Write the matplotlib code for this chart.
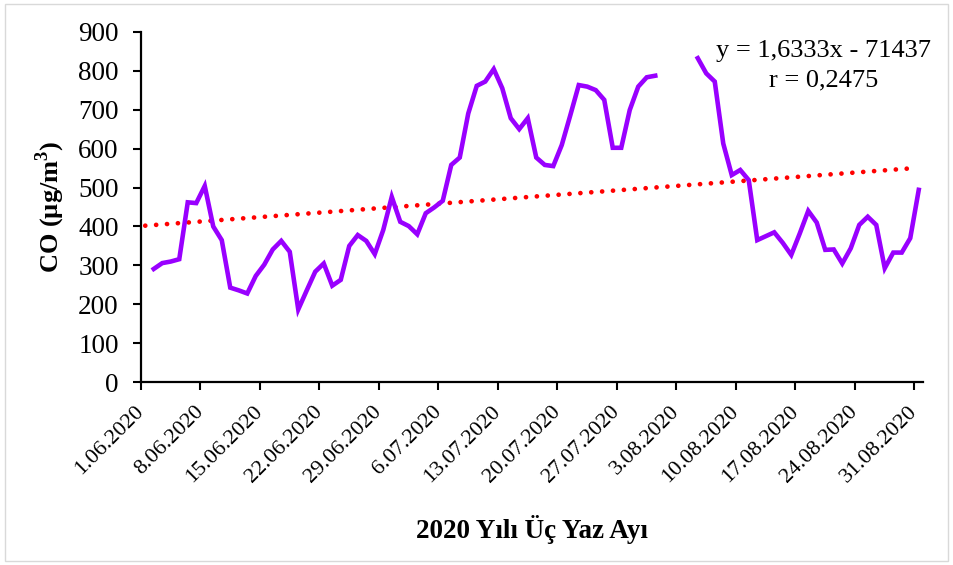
import numpy as np
import pandas as pd
import matplotlib
matplotlib.use("Agg")
import matplotlib.pyplot as plt
from matplotlib.patches import Rectangle

plt.rcParams['font.family'] = ['Liberation Serif', 'DejaVu Serif']

# Daily CO values, 2.06.2020 - 31.08.2020 (None = missing days)
start_date = "2020-06-02"
end_date = "2020-08-31"
co_values = [291, 306, 310, 316, 462, 460, 504, 400, 365, 243,
             236, 228, 273, 302, 341, 363, 335, 187, 236, 284,
             305, 248, 263, 350, 378, 363, 329, 391, 476, 412,
             401, 380, 434, 449, 466, 558, 577, 690, 761, 772,
             804, 755, 678, 650, 678, 577, 558, 555, 609, 685,
             763, 759, 750, 725, 602, 602, 699, 759, 783, 787,
             None, None, None, None, 832, 793, 772, 613, 532, 545,
             519, 365, 375, 385, 358, 327, 382, 440, 410, 340,
             341, 305, 344, 404, 425, 404, 293, 333, 333, 370,
             494]
tick_labels = ["1.06.2020", "8.06.2020", "15.06.2020", "22.06.2020",
               "29.06.2020", "6.07.2020", "13.07.2020", "20.07.2020",
               "27.07.2020", "3.08.2020", "10.08.2020", "17.08.2020",
               "24.08.2020", "31.08.2020"]
trend_slope = 1.6333
trend_icept = -71437
trend_text = "y = 1,6333x - 71437"
r_text = "r = 0,2475"

PURPLE = "#9900ff"
RED = "#ff0000"

dates = pd.date_range(start_date, end_date, freq="D")
first_tick = pd.Timestamp("2020-06-01")
# days since the first tick, points sit in the middle of their day slot
xpos = (dates - first_tick).days.values + 0.5
yvals = np.array([np.nan if v is None else v for v in co_values], dtype=float)

# Excel serial day numbers for the trendline equation
serial = (dates - pd.Timestamp("1899-12-30")).days.values
trend_x = np.array([xpos[0] - 1, xpos[-1] - 1])
trend_y = trend_slope * np.array([serial[0], serial[-1]]) + trend_icept

fig = plt.figure(figsize=(9.54, 5.65), dpi=100)
ax = fig.add_axes([141 / 954, 1 - 382.3 / 565, (923 - 141) / 954, (382.3 - 31.7) / 565])

ax.plot(xpos, yvals, color=PURPLE, lw=3.3, solid_joinstyle='miter', zorder=3)
ax.plot(trend_x, trend_y, color=RED, lw=3.4, linestyle=(0, (0.01, 2.3)),
        dash_capstyle='round', zorder=2)

ax.set_xlim(0, 92)
ax.set_ylim(0, 900)
ax.set_yticks(np.arange(0, 901, 100))
ax.set_xticks(np.arange(0, 92, 7))
ax.set_xticklabels(tick_labels, rotation=45, ha='right', va='center',
                   rotation_mode='anchor', fontsize=16)
ax.tick_params(axis='y', labelsize=19.5, direction='out', length=6, width=1.5, pad=10)
ax.tick_params(axis='x', direction='out', length=6, width=1.5, pad=13)

for side in ['top', 'right']:
    ax.spines[side].set_visible(False)
for side in ['left', 'bottom']:
    ax.spines[side].set_linewidth(1.6)

ax.set_ylabel("CO (µg/m$^\\mathregular{3}$)", fontsize=19, fontweight='bold')
ax.yaxis.set_label_coords(-0.094, 0.5)

fig.text(532 / 954, 1 - 530 / 565, "2020 Yılı Üç Yaz Ayı", fontsize=19.5,
         fontweight='bold', ha='center', va='center')

fig.text(824 / 954, 1 - 57 / 565, trend_text, fontsize=19, ha='center', va='baseline')
fig.text(824 / 954, 1 - 86.5 / 565, r_text, fontsize=19, ha='center', va='baseline')

# chart area border
fig.patches.append(Rectangle((5 / 954, 4 / 565), 943 / 954, 557 / 565,
                             transform=fig.transFigure, fill=False,
                             edgecolor='#d9d9d9', lw=1))

fig.savefig("out.png", dpi=100)
